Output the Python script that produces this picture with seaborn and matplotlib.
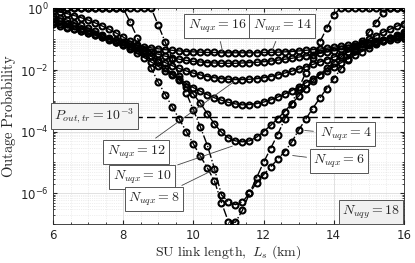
import numpy as np
import pandas as pd
import seaborn as sns
import matplotlib.pyplot as plt
from matplotlib.ticker import FixedLocator, LogLocator, NullFormatter, MultipleLocator

# SU link length (km)
link_km = [6.0, 6.2, 6.4, 6.6, 6.8, 7.0, 7.2, 7.4, 7.6, 7.8,
           8.0, 8.2, 8.4, 8.6, 8.8, 9.0, 9.2, 9.4, 9.6, 9.8,
           10.0, 10.2, 10.4, 10.6, 10.8, 11.0, 11.2, 11.4, 11.6, 11.8,
           12.0, 12.2, 12.4, 12.6, 12.8, 13.0, 13.2, 13.4, 13.6, 13.8,
           14.0, 14.2, 14.4, 14.6, 14.8, 15.0, 15.2, 15.4, 15.6, 15.8, 16.0]

# outage probability, stored as log10 values
log_p_n16 = [-0.50, -0.56, -0.62, -0.68, -0.74, -0.80, -0.86, -0.92, -0.98, -1.04,
             -1.09, -1.14, -1.19, -1.24, -1.28, -1.31, -1.34, -1.36, -1.38, -1.40,
             -1.41, -1.42, -1.43, -1.43, -1.44, -1.44, -1.44, -1.44, -1.44, -1.44,
             -1.43, -1.43, -1.42, -1.41, -1.40, -1.38, -1.36, -1.34, -1.32, -1.29,
             -1.26, -1.23, -1.20, -1.17, -1.14, -1.11, -1.08, -1.05, -1.02, -0.99, -0.96]
log_p_n14 = [-0.45, -0.52, -0.59, -0.66, -0.73, -0.80, -0.87, -0.94, -1.01, -1.08,
             -1.15, -1.22, -1.29, -1.36, -1.43, -1.49, -1.55, -1.60, -1.65, -1.69,
             -1.72, -1.74, -1.76, -1.77, -1.78, -1.78, -1.78, -1.77, -1.76, -1.75,
             -1.73, -1.71, -1.68, -1.65, -1.62, -1.58, -1.54, -1.50, -1.46, -1.41,
             -1.37, -1.32, -1.27, -1.22, -1.17, -1.12, -1.07, -1.02, -0.97, -0.93, -0.89]
log_p_n12 = [-0.35, -0.42, -0.50, -0.58, -0.66, -0.74, -0.82, -0.91, -1.00, -1.09,
             -1.18, -1.27, -1.36, -1.46, -1.56, -1.66, -1.76, -1.86, -1.95, -2.03,
             -2.10, -2.16, -2.21, -2.25, -2.28, -2.30, -2.31, -2.31, -2.30, -2.28,
             -2.25, -2.21, -2.16, -2.10, -2.04, -1.97, -1.90, -1.82, -1.74, -1.66,
             -1.58, -1.50, -1.42, -1.34, -1.26, -1.18, -1.11, -1.04, -0.97, -0.90, -0.83]
log_p_n10 = [-0.25, -0.31, -0.38, -0.46, -0.55, -0.64, -0.74, -0.85, -0.96, -1.08,
             -1.20, -1.33, -1.46, -1.60, -1.74, -1.88, -2.02, -2.16, -2.30, -2.44,
             -2.57, -2.69, -2.80, -2.90, -2.98, -3.05, -3.10, -3.13, -3.12, -3.09,
             -3.04, -2.97, -2.88, -2.78, -2.67, -2.55, -2.42, -2.29, -2.16, -2.03,
             -1.90, -1.77, -1.64, -1.52, -1.40, -1.28, -1.17, -1.06, -0.96, -0.86, -0.77]
log_p_n8 = [-0.08, -0.12, -0.17, -0.23, -0.30, -0.38, -0.47, -0.57, -0.68, -0.80,
            -0.93, -1.07, -1.22, -1.38, -1.55, -1.73, -1.92, -2.12, -2.33, -2.55,
            -2.78, -3.08, -3.42, -3.75, -4.02, -4.20, -4.30, -4.33, -4.30, -4.18,
            -4.00, -3.80, -3.58, -3.35, -3.10, -2.85, -2.60, -2.37, -2.15, -1.95,
            -1.76, -1.58, -1.42, -1.27, -1.13, -1.00, -0.89, -0.78, -0.68, -0.58, -0.49]
log_p_n6 = [0.0, 0.0, 0.0, 0.0, 0.0, 0.0, 0.0, 0.0, 0.0, 0.0,
            0.0, 0.0, 0.0, 0.0, 0.0, -0.55, -1.10, -1.65, -2.20, -2.75,
            -3.30, -3.85, -4.45, -5.20, -6.05, -6.28, -6.37, -6.28, -6.00, -5.66,
            -5.40, -5.15, -4.90, -4.65, -4.35, -3.95, -3.60, -3.25, -2.92, -2.60,
            -2.28, -1.97, -1.67, -1.38, -1.07, -0.78, -0.47, -0.15, 0.0, 0.0, 0.0]
log_p_n4 = [0.0, 0.0, 0.0, 0.0, 0.0, 0.0, 0.0, 0.0, 0.0, 0.0,
            0.0, -0.45, -0.95, -1.45, -1.95, -2.40, -2.80, -3.20, -3.60, -4.00,
            -4.40, -4.80, -5.18, -5.60, -6.30, -6.93, -6.94, -6.55, -6.00, -5.50,
            -5.00, -4.55, -4.10, -3.60, -3.10, -2.60, -2.10, -1.60, -1.10, -0.65,
            -0.20, 0.0, 0.0, 0.0, 0.0, 0.0, 0.0, 0.0, 0.0, 0.0, 0.0]

series = {16: log_p_n16, 14: log_p_n14, 12: log_p_n12, 10: log_p_n10,
          8: log_p_n8, 6: log_p_n6, 4: log_p_n4}
styles = {16: '-', 14: '-', 12: '-', 10: '-', 8: '-', 6: '-.', 4: '-.'}

p_out_tr_log = -3.52
n_uqy = 18

sns.set_style('ticks')
plt.rcParams['mathtext.fontset'] = 'cm'
plt.rcParams['font.family'] = ['DejaVu Sans']

fig, ax = plt.subplots(figsize=(4.15, 2.63), dpi=100)
fig.subplots_adjust(left=0.128, right=0.973, top=0.968, bottom=0.148)

for n, vals in series.items():
    df = pd.DataFrame({'L': link_km, 'P': np.power(10.0, vals)})
    sns.lineplot(data=df, x='L', y='P', ax=ax, color='k', linestyle=styles[n],
                 linewidth=1.0, marker='o', markersize=4.3, markerfacecolor='none',
                 markeredgecolor='k', markeredgewidth=1.5, zorder=3)

ax.set_yscale('log')
ax.set_xlim(6, 16)
ax.set_ylim(1e-7, 1)

# threshold line
ax.axhline(10 ** p_out_tr_log, xmin=0.23, color='k', linestyle=(0, (6, 3)), linewidth=1.0, zorder=2)

ax.set_xticks([6, 8, 10, 12, 14, 16])
ax.xaxis.set_minor_locator(MultipleLocator(0.5))
ax.yaxis.set_major_locator(FixedLocator([1e-6, 1e-4, 1e-2, 1]))
ax.set_yticklabels([r'$\mathregular{10^{-6}}$', r'$\mathregular{10^{-4}}$',
                    r'$\mathregular{10^{-2}}$', r'$\mathregular{10^{0}}$'])
ax.yaxis.set_minor_locator(LogLocator(base=10, subs=np.arange(1, 10), numticks=20))
ax.yaxis.set_minor_formatter(NullFormatter())
ax.tick_params(which='both', direction='in', top=True, right=True, labelsize=8.5, colors='#262626')
ax.tick_params(which='major', length=3)
ax.tick_params(which='minor', length=1.5)
ax.grid(which='major', color='#dcdcdc', linewidth=0.6)
ax.grid(which='minor', color='#e0e0e0', linestyle=':', linewidth=0.5)
for s in ax.spines.values():
    s.set_color('#262626')
    s.set_linewidth(0.6)

ax.set_xlabel(r'$\mathrm{SU\ link\ length,}\ L_s\ \mathrm{(km)}$', fontsize=10, labelpad=1)
ax.set_ylabel(r'$\mathrm{Outage\ Probability}$', fontsize=10.5, labelpad=1)

box = dict(boxstyle='square,pad=0.25', facecolor='white', edgecolor='#555555', linewidth=0.7)
arrow = dict(arrowstyle='-', color='#444444', linewidth=0.6)

def px2data(px, py):
    x = 6 + (px - 53) / 351 * 10
    ly = -(py - 8) / 216 * 7
    return x, 10 ** ly

labels = [
    (16, (217, 26), (223, 53)),
    (14, (282, 26), (271, 53)),
    (12, (136, 152), (236, 80)),
    (10, (142, 177), (235, 145)),
    (8, (154, 199), (217, 168)),
    (4, (346, 134), (302, 130)),
    (6, (339, 161), (290, 155)),
]
for n, (tx, ty), (hx, hy) in labels:
    ax.annotate(r'$N_{uqx} = %d$' % n, xy=px2data(hx, hy), xytext=px2data(tx, ty),
                fontsize=10, ha='center', va='center', bbox=box, arrowprops=arrow, zorder=5)

ax.text(*px2data(94, 116), r'$P_{out,tr} = 10^{-3}$', fontsize=10, ha='center', va='center',
        bbox=dict(boxstyle='square,pad=0.25', facecolor='#f4f4f4', edgecolor='#555555', linewidth=0.7), zorder=5)
ax.text(*px2data(371, 212), r'$N_{uqy} = %d$' % n_uqy, fontsize=10, ha='center', va='center',
        bbox=dict(boxstyle='square,pad=0.25', facecolor='#f0f0f0', edgecolor='#555555', linewidth=0.7), zorder=5)

plt.savefig('out.png', dpi=100)
